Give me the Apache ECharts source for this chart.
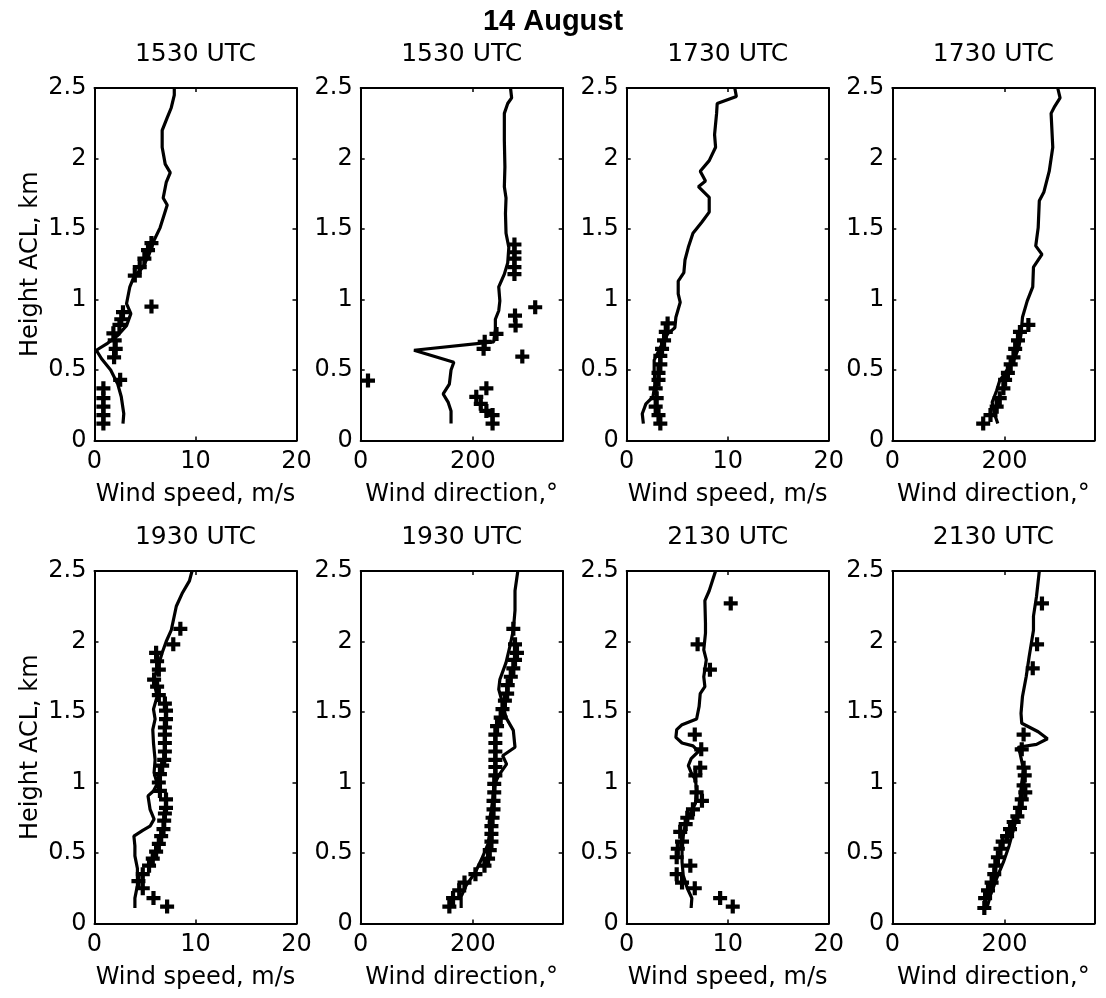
<!DOCTYPE html>
<html>
<head>
<meta charset="utf-8">
<script src="https://cdn.jsdelivr.net/npm/echarts@6/dist/echarts.min.js"></script>
<style>
html,body{margin:0;padding:0;background:#fff;}
#chart{width:1106px;height:998px;}
</style>
</head>
<body>
<div id="chart"></div>
<script>
// ---------------- data: [value, height km] ----------------
const mainTitle = '14 August';
const panelTitles = ['1530 UTC','1530 UTC','1730 UTC','1730 UTC','1930 UTC','1930 UTC','2130 UTC','2130 UTC'];
const speedName = 'Wind speed, m/s';
const dirName = 'Wind direction,\u00b0';
const heightName = 'Height ACL, km';

const speed1530Line = [[2.82,0.12],[2.9,0.19],[2.65,0.31],[2.3,0.40],[1.6,0.50],[0.7,0.58],[0.18,0.64],[1.2,0.685],[2.3,0.745],[3.17,0.815],[3.6,0.90],[3.17,0.97],[3.5,1.09],[3.9,1.16],[4.8,1.23],[5.4,1.32],[5.9,1.42],[6.5,1.51],[7.2,1.67],[6.8,1.72],[7.1,1.83],[7.5,1.90],[7.0,1.96],[6.7,2.08],[6.7,2.20],[7.2,2.29],[7.6,2.36],[7.9,2.45],[7.9,2.5]];
const speed1530Pts = [[0.88,0.12],[0.88,0.18],[0.88,0.24],[0.88,0.30],[0.88,0.37],[2.54,0.43],[1.94,0.59],[2.1,0.65],[2.0,0.71],[1.87,0.76],[2.47,0.82],[2.65,0.86],[2.82,0.91],[5.64,0.95],[3.99,1.17],[4.48,1.23],[4.94,1.29],[5.3,1.35],[5.64,1.40]];

const dir1530Line = [[161,0.12],[161,0.21],[156,0.27],[147,0.33],[158,0.40],[161,0.50],[166,0.555],[95,0.64],[237,0.70],[240,0.79],[240,0.86],[246,0.92],[248,0.99],[246,1.09],[256,1.18],[262,1.26],[264,1.37],[259,1.47],[258,1.61],[259,1.72],[256,1.80],[257,1.94],[256,2.13],[256,2.32],[262,2.39],[269,2.43],[267,2.5]];
const dir1530Pts = [[13,0.425],[235,0.12],[235,0.18],[224,0.21],[214,0.26],[206,0.31],[224,0.37],[288,0.595],[219,0.65],[221,0.70],[242,0.756],[276,0.815],[275,0.886],[311,0.945],[274,1.18],[274,1.23],[274,1.29],[274,1.335],[274,1.39]];

const speed1730Line = [[1.65,0.12],[1.54,0.19],[1.9,0.26],[2.6,0.31],[2.8,0.40],[2.72,0.50],[2.72,0.57],[3.33,0.66],[4.05,0.756],[4.77,0.80],[4.87,0.874],[5.3,0.98],[5.1,1.04],[5.1,1.13],[5.66,1.19],[5.77,1.28],[6.1,1.37],[6.56,1.47],[7.45,1.55],[8.17,1.62],[8.17,1.725],[7.1,1.80],[7.8,1.84],[7.28,1.91],[8.17,1.985],[8.8,2.08],[8.7,2.17],[8.9,2.32],[8.96,2.39],[10.86,2.44],[10.7,2.5]];
const speed1730Pts = [[3.33,0.12],[3.15,0.18],[2.87,0.24],[2.97,0.30],[2.87,0.37],[3.15,0.43],[3.15,0.48],[3.33,0.54],[3.33,0.60],[3.5,0.65],[3.7,0.71],[3.87,0.77],[4.05,0.83]];

const dir1730Line = [[188,0.12],[182,0.19],[178,0.27],[186,0.355],[191.5,0.425],[204.6,0.50],[217.6,0.58],[225.5,0.66],[229.4,0.756],[232,0.874],[240.5,0.99],[250.3,1.09],[251.6,1.23],[266.7,1.32],[255.6,1.38],[260,1.51],[262,1.70],[270,1.76],[279.7,1.91],[286,2.08],[283,2.32],[289.5,2.37],[299,2.43],[294.8,2.5]];
const dir1730Pts = [[162,0.12],[175,0.18],[186,0.24],[191.5,0.30],[198,0.37],[201,0.43],[206,0.48],[211,0.54],[216,0.59],[219,0.65],[224,0.71],[227.5,0.77],[242.5,0.82]];

const speed1930Line = [[4.0,0.11],[4.0,0.18],[4.25,0.27],[4.25,0.39],[4.0,0.48],[4.0,0.55],[3.9,0.62],[4.78,0.66],[5.5,0.69],[5.9,0.74],[5.5,0.81],[5.3,0.905],[5.84,0.94],[6.2,0.99],[5.9,1.07],[6.0,1.16],[5.84,1.28],[5.77,1.375],[6.0,1.45],[5.84,1.52],[6.2,1.61],[5.84,1.73],[6.2,1.80],[6.7,1.92],[7.1,2.0],[7.6,2.08],[8.1,2.25],[8.67,2.34],[9.4,2.43],[9.66,2.5]];
const speed1930Pts = [[7.19,0.12],[5.84,0.18],[4.78,0.25],[4.35,0.30],[4.78,0.35],[5.4,0.41],[5.77,0.46],[6.1,0.51],[6.37,0.565],[6.6,0.62],[6.83,0.67],[6.9,0.73],[6.97,0.78],[7.08,0.82],[7.08,0.88],[6.48,0.94],[6.37,1.0],[6.48,1.06],[6.7,1.12],[6.9,1.16],[6.97,1.22],[6.97,1.28],[6.97,1.34],[6.97,1.39],[7.08,1.45],[7.08,1.51],[6.97,1.56],[6.37,1.62],[6.2,1.68],[5.9,1.73],[6.37,1.80],[6.2,1.86],[6.1,1.92],[7.8,1.98],[8.5,2.09]];

const dir1930Line = [[179,0.11],[179,0.19],[188,0.27],[204.5,0.365],[217,0.47],[227,0.565],[230,0.65],[229,0.72],[233,0.81],[237,0.93],[240,1.0],[246,1.05],[260,1.13],[253,1.19],[275,1.25],[272,1.37],[259,1.46],[253,1.56],[246,1.66],[248,1.73],[259,1.85],[265.6,1.96],[272,2.08],[275,2.22],[275,2.36],[280,2.5]];
const dir1930Pts = [[158,0.12],[164.6,0.18],[175.6,0.235],[185,0.29],[204.5,0.35],[220.6,0.41],[227,0.46],[230,0.52],[233,0.58],[233,0.635],[233,0.69],[235,0.75],[236.7,0.81],[236.7,0.87],[238,0.93],[238,0.99],[240,1.05],[240,1.11],[240,1.16],[240,1.22],[240,1.28],[240,1.34],[243,1.40],[249.5,1.46],[252.7,1.52],[257,1.58],[261,1.63],[262,1.69],[267.5,1.75],[272,1.81],[275,1.87],[278.5,1.92],[275,1.98],[272,2.09]];

const speed2130Line = [[6.38,0.11],[6.45,0.18],[6.0,0.25],[5.6,0.34],[5.48,0.435],[5.48,0.53],[5.6,0.62],[5.84,0.72],[6.38,0.79],[6.8,0.85],[6.92,0.95],[6.8,1.02],[6.38,1.07],[6.1,1.12],[6.38,1.17],[7.1,1.22],[6.56,1.26],[5.48,1.28],[4.87,1.32],[4.95,1.375],[5.48,1.41],[6.92,1.45],[7.17,1.54],[7.28,1.63],[7.74,1.68],[7.63,1.75],[7.88,1.87],[7.63,1.94],[7.8,2.06],[7.8,2.13],[7.74,2.29],[8.17,2.36],[8.8,2.5]];
const speed2130Pts = [[10.5,0.12],[9.25,0.18],[6.74,0.25],[5.48,0.29],[4.95,0.35],[6.3,0.41],[4.95,0.47],[5.06,0.53],[5.48,0.58],[5.3,0.65],[5.84,0.705],[6.0,0.75],[6.56,0.81],[7.45,0.87],[6.92,0.93],[6.8,1.05],[7.28,1.105],[7.38,1.235],[6.74,1.34],[8.24,1.80],[7.02,1.98],[10.3,2.27]];

const dir2130Line = [[168.6,0.11],[175,0.2],[186,0.32],[198,0.435],[208,0.55],[217.6,0.69],[225.5,0.81],[230.7,1.0],[234,1.09],[227.5,1.21],[224,1.25],[257,1.27],[276.5,1.31],[260,1.36],[230.7,1.42],[229.4,1.49],[232,1.61],[238.6,1.75],[243.8,1.89],[251.6,2.08],[251.6,2.18],[257,2.32],[262,2.5]];
const dir2130Pts = [[164,0.11],[165.4,0.18],[170.6,0.235],[177,0.29],[181.7,0.35],[183.7,0.41],[188.2,0.47],[192.8,0.53],[196.7,0.58],[204.6,0.62],[209.8,0.67],[216.3,0.72],[222.9,0.76],[227.5,0.82],[230.7,0.88],[237,0.93],[234,0.98],[236,1.05],[234,1.105],[230.7,1.235],[234,1.34],[250.3,1.81],[258,1.98],[266.7,2.27]];

const panelLines = [speed1530Line, dir1530Line, speed1730Line, dir1730Line, speed1930Line, dir1930Line, speed2130Line, dir2130Line];
const panelPts = [speed1530Pts, dir1530Pts, speed1730Pts, dir1730Pts, speed1930Pts, dir1930Pts, speed2130Pts, dir2130Pts];
const panelIsSpeed = [true,false,true,false,true,false,true,false];

// ---------------- layout ----------------
const FONT = '"DejaVu Sans", Verdana, sans-serif';
const TITLE_FONT = '"Liberation Sans", Arial, Helvetica, sans-serif';
const gridLeft = [94.5, 360.7, 626.7, 892.3];
const gridTop = [88, 571];
const gridW = 202, gridH = 352.5;
const plusPath = 'path://M35,0H65V35H100V65H65V100H35V65H0V35H35Z';

const grids = [], xAxes = [], yAxes = [], series = [], titles = [];
titles.push({text: mainTitle, left: 553, top: 7, textAlign: 'center', padding: 0,
  textStyle: {fontFamily: TITLE_FONT, fontSize: 29, fontWeight: 'bold', color: '#000'}});

const axLine = {show: true, onZero: false, lineStyle: {color: '#000', width: 2}};
const tick = {show: true, inside: true, length: 4, lineStyle: {color: '#000', width: 1.5}};

for (let i = 0; i < 8; i++) {
  const r = Math.floor(i / 4), c = i % 4;
  const isSpeed = panelIsSpeed[i];
  grids.push({left: gridLeft[c], top: gridTop[r], width: gridW, height: gridH, containLabel: false});
  titles.push({text: panelTitles[i], left: gridLeft[c] + gridW / 2, top: gridTop[r] - 46, textAlign: 'center', padding: 0,
    textStyle: {fontFamily: FONT, fontSize: 25, fontWeight: 'normal', color: '#000'}});
  const xr = isSpeed ? {min: 0, max: 20, interval: 10} : {min: 0, max: 360, interval: 200};
  xAxes.push(Object.assign({gridIndex: i, type: 'value', position: 'bottom',
    axisLine: axLine, axisTick: tick, splitLine: {show: false},
    axisLabel: {color: '#000', fontSize: 24, fontFamily: FONT, margin: 9, showMaxLabel: isSpeed, showMinLabel: true},
    name: isSpeed ? speedName : dirName, nameLocation: 'middle', nameGap: 42,
    nameTextStyle: {color: '#000', fontSize: 24, fontFamily: FONT}}, xr));
  xAxes.push(Object.assign({gridIndex: i, type: 'value', position: 'top',
    axisLine: axLine, axisTick: tick, splitLine: {show: false}, axisLabel: {show: false}}, xr));
  const yr = {min: 0, max: 2.5, interval: 0.5};
  const yl = {gridIndex: i, type: 'value', position: 'left',
    axisLine: axLine, axisTick: tick, splitLine: {show: false},
    axisLabel: {color: '#000', fontSize: 24, fontFamily: FONT, margin: 8}};
  if (c === 0) {
    yl.name = heightName; yl.nameLocation = 'middle'; yl.nameGap = 52;
    yl.nameTextStyle = {color: '#000', fontSize: 24, fontFamily: FONT};
  }
  yAxes.push(Object.assign(yl, yr));
  yAxes.push(Object.assign({gridIndex: i, type: 'value', position: 'right',
    axisLine: axLine, axisTick: tick, splitLine: {show: false}, axisLabel: {show: false}}, yr));

  series.push({type: 'line', xAxisIndex: 2 * i, yAxisIndex: 2 * i, data: panelLines[i],
    showSymbol: false, symbol: 'none', smooth: false, clip: true, animation: false,
    lineStyle: {color: '#000', width: 3.2}, z: 3});
  series.push({type: 'scatter', xAxisIndex: 2 * i, yAxisIndex: 2 * i, data: panelPts[i],
    symbol: plusPath, symbolSize: 14, itemStyle: {color: '#000', opacity: 1}, animation: false, z: 4});
}

const chart = echarts.init(document.getElementById('chart'), null, {renderer: 'canvas'});
chart.setOption({
  backgroundColor: '#fff',
  animation: false,
  title: titles,
  grid: grids,
  xAxis: xAxes,
  yAxis: yAxes,
  series: series
});
</script>
</body>
</html>
